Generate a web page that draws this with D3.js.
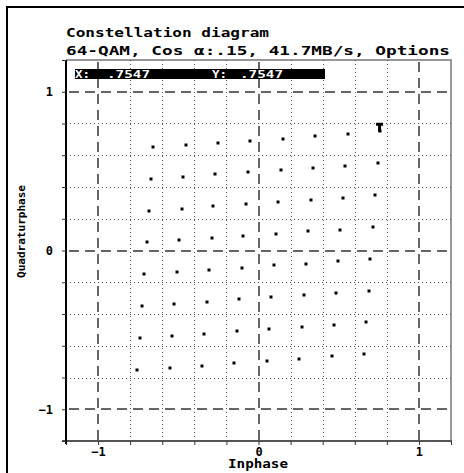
<!DOCTYPE html>
<html>
<head>
<meta charset="utf-8">
<script src="https://cdn.jsdelivr.net/npm/d3@7"></script>
<style>
  body { margin: 0; background: #fff; }
  text { font-family: "DejaVu Sans Mono", monospace; font-weight: bold; }
</style>
</head>
<body>
<div id="chart"></div>
<script>
// constellation points, row by row (top row first)
const inphase = [
  -0.656, -0.454, -0.254, -0.052, 0.150, 0.354, 0.556, 0.7547,
  -0.671, -0.469, -0.269, -0.066, 0.138, 0.338, 0.542, 0.742,
  -0.685, -0.479, -0.281, -0.081, 0.123, 0.325, 0.528, 0.729,
  -0.698, -0.496, -0.291, -0.094, 0.109, 0.311, 0.511, 0.715,
  -0.713, -0.510, -0.308, -0.104, 0.094, 0.296, 0.498, 0.698,
  -0.727, -0.525, -0.323, -0.121, 0.081, 0.281, 0.484, 0.686,
  -0.741, -0.539, -0.339, -0.135, 0.067, 0.269, 0.471, 0.669,
  -0.756, -0.554, -0.352, -0.150, 0.053, 0.254, 0.459, 0.656
];
const quadrature = [
  0.650, 0.665, 0.679, 0.692, 0.704, 0.719, 0.736, 0.7547,
  0.451, 0.464, 0.480, 0.492, 0.508, 0.520, 0.535, 0.549,
  0.250, 0.264, 0.279, 0.291, 0.306, 0.321, 0.333, 0.348,
  0.052, 0.063, 0.077, 0.090, 0.107, 0.121, 0.132, 0.147,
  -0.151, -0.136, -0.124, -0.109, -0.092, -0.082, -0.067, -0.055,
  -0.352, -0.335, -0.323, -0.308, -0.296, -0.281, -0.266, -0.253,
  -0.549, -0.539, -0.524, -0.509, -0.497, -0.482, -0.467, -0.451,
  -0.753, -0.738, -0.725, -0.711, -0.696, -0.682, -0.667, -0.654
];
const cursor = { x: 0.7547, y: 0.7547 };
const tickVals = [-1.2, -1, -0.8, -0.6, -0.4, -0.2, 0, 0.2, 0.4, 0.6, 0.8, 1, 1.2];
const labelVals = [-1, 0, 1];
const majorVals = [-1, 0, 1];
const minorVals = [-0.8, -0.6, -0.4, -0.2, 0.2, 0.4, 0.6, 0.8];

const width = 464, height = 473;

var svg = d3.select("#chart")
    .append("svg")
    .attr("width", width)
    .attr("height", height);

// outer frame (runs off the right and bottom of the picture)
svg.append("rect")
    .attr("x", 7).attr("y", 7)
    .attr("width", 480).attr("height", 490)
    .attr("fill", "none")
    .attr("stroke", "#000")
    .attr("stroke-width", 2);

var x = d3.scaleLinear().domain([-1.2, 1.2]).range([66, 451]);
var y = d3.scaleLinear().domain([-1.2, 1.2]).range([441, 60]);

// plot box top and right
svg.append("path")
    .attr("d", "M" + x(-1.2) + "," + y(1.2) + "H" + x(1.2) + "V" + y(-1.2))
    .attr("fill", "none")
    .attr("stroke", "#777")
    .attr("stroke-width", 1.5);

// minor dotted grid
svg.selectAll(".vminor")
    .data(minorVals)
    .enter()
    .append("line")
    .attr("x1", (d) => Math.round(x(d)) + 0.5)
    .attr("x2", (d) => Math.round(x(d)) + 0.5)
    .attr("y1", y(1.2)).attr("y2", y(-1.2))
    .attr("stroke", "#555")
    .attr("stroke-dasharray", "1,3");

svg.selectAll(".hminor")
    .data(minorVals)
    .enter()
    .append("line")
    .attr("y1", (d) => Math.round(y(d)) + 0.5)
    .attr("y2", (d) => Math.round(y(d)) + 0.5)
    .attr("x1", x(-1.2)).attr("x2", x(1.2))
    .attr("stroke", "#555")
    .attr("stroke-dasharray", "1,3");

// major dashed grid
svg.selectAll(".vmajor")
    .data(majorVals)
    .enter()
    .append("line")
    .attr("x1", (d) => Math.round(x(d)))
    .attr("x2", (d) => Math.round(x(d)))
    .attr("y1", y(1.2) + 2).attr("y2", y(-1.2))
    .attr("stroke", "#333")
    .attr("stroke-width", 1.5)
    .attr("stroke-dasharray", "10,6");

svg.selectAll(".hmajor")
    .data(majorVals)
    .enter()
    .append("line")
    .attr("y1", (d) => Math.round(y(d)))
    .attr("y2", (d) => Math.round(y(d)))
    .attr("x1", x(-1.2) + 3).attr("x2", x(1.2))
    .attr("stroke", "#333")
    .attr("stroke-width", 1.5)
    .attr("stroke-dasharray", "10,6");

const fmt = (d) => labelVals.some((v) => Math.abs(v - d) < 1e-9) ? (d < 0 ? "\u2212" + Math.abs(d) : String(d)) : "";

// axes
var xAxis = svg.append("g")
    .attr("transform", "translate(0," + y(-1.2) + ")")
    .call(d3.axisBottom(x).tickValues(tickVals).tickFormat(fmt).tickSizeInner(4).tickSizeOuter(0).tickPadding(2));
xAxis.select(".domain").attr("stroke", "#555").attr("stroke-width", 2)
    .attr("d", "M" + (x(-1.2) - 4) + ",0H" + (x(1.2) + 1));
xAxis.selectAll(".tick line").attr("stroke", "#333");
xAxis.selectAll("text").attr("font-size", 12).attr("fill", "#000")
    .attr("font-family", "DejaVu Sans Mono").attr("font-weight", "bold");

var yAxis = svg.append("g")
    .attr("transform", "translate(" + x(-1.2) + ",0)")
    .call(d3.axisLeft(y).tickValues(tickVals).tickFormat(fmt).tickSizeInner(4).tickSizeOuter(0).tickPadding(9));
yAxis.select(".domain").attr("stroke", "#000").attr("stroke-width", 2)
    .attr("d", "M0," + y(1.2) + "V" + (y(-1.2) + 3));
yAxis.selectAll(".tick line").attr("stroke", "#333");
yAxis.selectAll("text").attr("font-size", 12).attr("fill", "#000")
    .attr("font-family", "DejaVu Sans Mono").attr("font-weight", "bold");

// constellation points
var pts = inphase.map((d, i) => ({ i: d, q: quadrature[i] }));
svg.selectAll(".pt")
    .data(pts)
    .enter()
    .append("rect")
    .attr("x", (d) => Math.round(x(d.i)) - 1.5)
    .attr("y", (d) => Math.round(y(d.q)) - 1.5)
    .attr("width", 3)
    .attr("height", 3)
    .attr("fill", "#000");

// cursor marker
var cx = x(cursor.x), cy = y(cursor.y);
svg.append("path")
    .attr("d", "M" + (cx - 3.5) + "," + (cy - 8) + "h7v3h-2v6h-3v-6h-2z")
    .attr("fill", "#000");

// readout bar
svg.append("rect")
    .attr("x", 75).attr("y", 69)
    .attr("width", 250).attr("height", 10)
    .attr("fill", "#000");
const readout = [
  { t: "X:", x: 75, w: 15 },
  { t: "." + String(cursor.x).split(".")[1], x: 107, w: 43 },
  { t: "Y:", x: 212, w: 15 },
  { t: "." + String(cursor.y).split(".")[1], x: 240, w: 43 }
];
svg.selectAll(".readout")
    .data(readout)
    .enter()
    .append("text")
    .attr("x", (d) => d.x)
    .attr("y", 78)
    .attr("textLength", (d) => d.w)
    .attr("lengthAdjust", "spacingAndGlyphs")
    .attr("font-size", 11)
    .attr("fill", "#fff")
    .text((d) => d.t);

// titles
svg.append("text")
    .attr("x", 66).attr("y", 37)
    .attr("font-size", 13)
    .attr("textLength", 203)
    .attr("lengthAdjust", "spacingAndGlyphs")
    .text("Constellation diagram");

svg.append("text")
    .attr("x", 66).attr("y", 55)
    .attr("font-size", 12)
    .attr("textLength", 384)
    .attr("lengthAdjust", "spacingAndGlyphs")
    .text("64-QAM, Cos \u03b1:.15, 41.7MB/s, Options");

svg.append("text")
    .attr("x", 228).attr("y", 468)
    .attr("font-size", 12)
    .attr("textLength", 60)
    .attr("lengthAdjust", "spacingAndGlyphs")
    .text("Inphase");

svg.append("text")
    .attr("transform", "translate(25,278) rotate(-90)")
    .attr("font-size", 11)
    .attr("textLength", 93)
    .attr("lengthAdjust", "spacingAndGlyphs")
    .text("Quadraturphase");
</script>
</body>
</html>
